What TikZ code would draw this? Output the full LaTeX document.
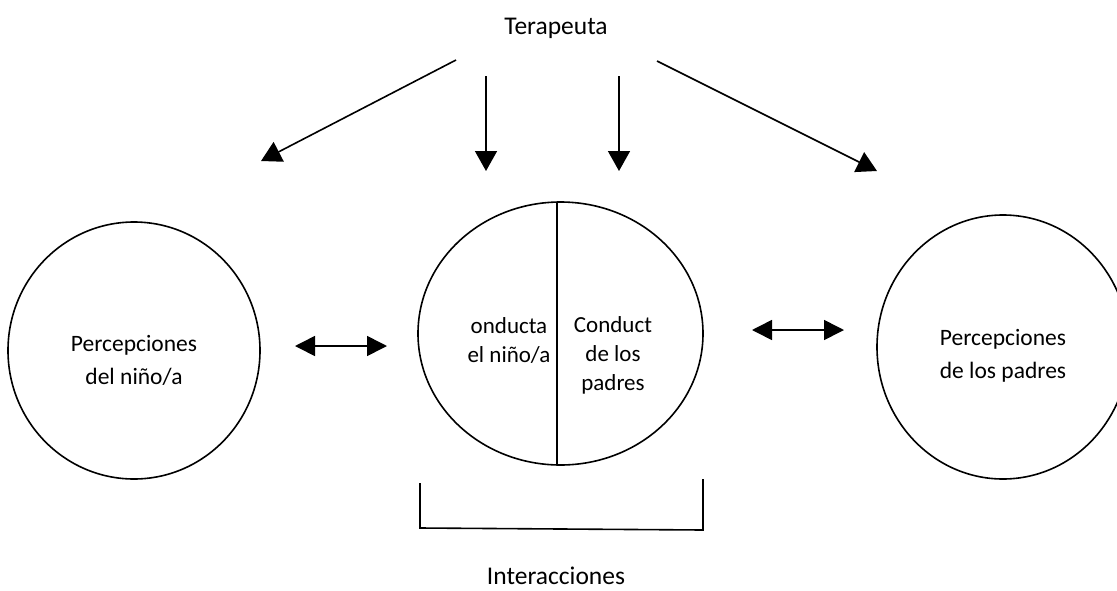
\documentclass[tikz,border=0pt]{standalone}
\usepackage{fontspec}
\setmainfont{Carlito}
\usetikzlibrary{arrows.meta,shapes.geometric,calc}
\begin{document}
\begin{tikzpicture}[x=1pt,y=-1pt,
  ln/.style={line width=1.6pt,black},
  arr/.style={ln,-{Triangle[width=22pt,length=20pt]}},
  darr/.style={ln,{Triangle[width=20pt,length=20pt]}-{Triangle[width=20pt,length=20pt]}},
  ring/.style={ellipse,draw,line width=1.6pt,inner sep=0pt},
  lbl/.style={font=\fontsize{25.5}{30}\selectfont,inner sep=0pt},
  ctxt/.style={font=\fontsize{23.5}{33}\selectfont,align=center,inner sep=0pt},
  mtxt/.style={font=\fontsize{23}{29}\selectfont,align=center,inner sep=0pt}]
\useasboundingbox (0,0) rectangle (1117,590);
% title
\node[lbl] (ter) at (556,28) {Terapeuta};
% circles
\node[ring,minimum width=252pt,minimum height=257pt] (left) at (134,350.5) {};
\node[ring,minimum width=285pt,minimum height=263pt] (mid) at (560.5,333.5) {};
\node[ring,minimum width=252pt,minimum height=264pt] (right) at (1003,347) {};
% texts in circles
\node[ctxt] (lt) at (134,360) {Percepciones\\del niño/a};
\node[ctxt] (rt) at (1003,356) {Percepciones\\de los padres};
\node[mtxt] (mlt) at (509,340) {onducta\\el niño/a};
\node[mtxt] (mrt) at (613,355) {Conduct\\de los\\padres};
% divider
\coordinate (dtop) at (557,202);
\coordinate (dbot) at (557,465);
\draw[ln] (dtop) -- (dbot);
% arrows from therapist
\coordinate (s1) at (456,60);  \coordinate (e1) at (261,161);
\coordinate (s2) at (486,76);  \coordinate (e2) at (486,171);
\coordinate (s3) at (619,76);  \coordinate (e3) at (619,171);
\coordinate (s4) at (657,61);  \coordinate (e4) at (877,171);
\draw[arr] (s1) -- (e1);
\draw[arr] (s2) -- (e2);
\draw[arr] (s3) -- (e3);
\draw[arr] (s4) -- (e4);
% double arrows
\coordinate (da1) at (295,346); \coordinate (db1) at (387,346);
\coordinate (da2) at (752,330); \coordinate (db2) at (844,330);
\draw[darr] (da1) -- (db1);
\draw[darr] (da2) -- (db2);
% bracket
\coordinate (b1) at (420,483); \coordinate (b2) at (420,528);
\coordinate (b3) at (703,530); \coordinate (b4) at (703,479);
\draw[ln] (b1) -- (b2) -- (b3) -- (b4);
\node[lbl] (int) at (556,576) {Interacciones};
\end{tikzpicture}
\end{document}
